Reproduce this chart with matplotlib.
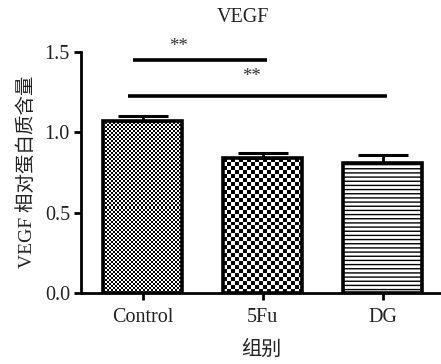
import numpy as np
import matplotlib
matplotlib.use("Agg")
import matplotlib.pyplot as plt

categories = ["Control", "5Fu", "DG"]
values = [1.072, 0.84, 0.81]
errors = [0.032, 0.03, 0.05]
yticks = [0.0, 0.5, 1.0, 1.5]
ytick_labels = ["0.0", "0.5", "1.0", "1.5"]
sig_lines = [(-0.08, 1.036, 1.450), (-0.12, 2.04, 1.224)]
sig_text = [(0.30, 1.505, "**"), (0.91, 1.32, "**")]

FAM = ['Liberation Serif', 'Noto Sans CJK SC']
plt.rcParams['font.family'] = FAM

fig = plt.figure(figsize=(4.41, 3.64), dpi=100)
ax = fig.add_axes([81/441, 1-293/364, 1-81/441, (293-52)/364])
x = np.arange(len(categories))
ax.set_xlim(-0.514, 2.486)
ax.set_ylim(0, 1.5)

bw = 0.66
bars = ax.bar(x, values, width=bw, facecolor='none', edgecolor='black',
              linewidth=2.6, zorder=3)
ax.errorbar(x, values, yerr=[[0]*3, errors], fmt='none', ecolor='black',
            elinewidth=2.0, capsize=18, capthick=2.2, zorder=2)

fig.canvas.draw()
def pix(dx, dy):
    p0 = ax.transData.transform((0, 0))
    p1 = ax.transData.transform((dx, dy))
    return abs(p1[0]-p0[0]), abs(p1[1]-p0[1])

cells = [2.0, 4.0]
for i, b in enumerate(bars):
    x0, w, h = b.get_x(), b.get_width(), b.get_height()
    if i < 2:
        pw, ph = pix(w, h)
        nx = max(1, int(round(pw / cells[i])))
        ny = max(1, int(round(ph / cells[i])))
        arr = (np.add.outer(np.arange(ny), np.arange(nx)) % 2).astype(float)
        ax.imshow(arr, cmap='gray', extent=(x0, x0+w, 0, h), aspect='auto',
                  interpolation='nearest', clip_path=b, zorder=1, vmin=0, vmax=1)
    else:
        ax.bar(x0 + w/2, h, width=w, facecolor='white', edgecolor='black',
               hatch='----', linewidth=0, zorder=1)
ax.set_xlim(-0.514, 2.486)
ax.set_ylim(0, 1.5)

for (a, b2, yy) in sig_lines:
    ax.plot([a, b2], [yy, yy], color='black', lw=2.6, clip_on=False,
            solid_capstyle='butt')
for (xx, yy, t) in sig_text:
    ax.text(xx, yy, t, ha='center', va='baseline', fontsize=13.5, color='#333333',
            clip_on=False)

for s in ['top', 'right']:
    ax.spines[s].set_visible(False)
for s in ['left', 'bottom']:
    ax.spines[s].set_linewidth(2.0)
ax.set_xticks(x)
ax.set_xticklabels(categories, fontsize=14.5, color='#222222')
ax.set_yticks(yticks)
ax.set_yticklabels(ytick_labels, fontsize=14.5, color='#222222')
ax.tick_params(axis='both', length=5, width=2.0, direction='out', pad=3)
ax.tick_params(axis='x', pad=6)

fig.text(243/441, 1-18/364, "VEGF", ha='center', va='center', fontsize=14.5,
         color='#222222')
fig.text(26/441, 1-172/364, "VEGF 相对蛋白质含量", ha='center', va='center',
         rotation=90, fontsize=14, family=FAM, color='#222222')
fig.text(261/441, 1-350/364, "组别", ha='center', va='center', fontsize=14.5,
         family=FAM, color='#222222')

fig.savefig("out.png", dpi=100)
